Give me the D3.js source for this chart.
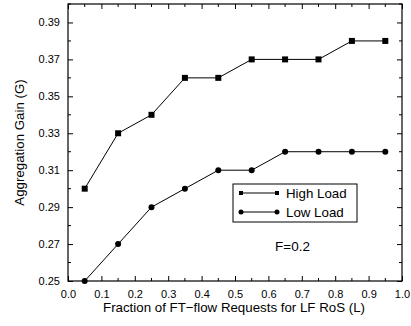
<!DOCTYPE html>
<html>
<head>
<meta charset="utf-8">
<script src="https://cdn.jsdelivr.net/npm/d3@7"></script>
<style>
  html, body { margin: 0; padding: 0; background: #fff; }
  svg { display: block; font-family: "Liberation Sans", Arial, sans-serif; }
</style>
</head>
<body>
<svg id="chart" width="411" height="326"></svg>
<script>
// Fraction of FT-flow requests (L) at which gain was measured
const fractions = [0.05, 0.15, 0.25, 0.35, 0.45, 0.55, 0.65, 0.75, 0.85, 0.95];
// Aggregation gain per load level
const highLoad = [0.30, 0.33, 0.34, 0.36, 0.36, 0.37, 0.37, 0.37, 0.38, 0.38];
const lowLoad  = [0.25, 0.27, 0.29, 0.30, 0.31, 0.31, 0.32, 0.32, 0.32, 0.32];
const seriesNames = ["High Load", "Low Load"];
const xTickLabels = ["0.0","0.1","0.2","0.3","0.4","0.5","0.6","0.7","0.8","0.9","1.0"];
const yTickLabels = ["0.25","0.27","0.29","0.31","0.33","0.35","0.37","0.39"];
const annotation = "F=0.2";

const svg = d3.select("#chart");
const m = { left: 68, right: 402, top: 4, bottom: 281 };

const x = d3.scaleLinear().domain([0, 1]).range([m.left, m.right]);
const y = d3.scaleLinear().domain([0.25, 0.40]).range([m.bottom, m.top]);

const majorX = xTickLabels.map(Number);
const minorX = d3.range(0.05, 1, 0.1);
const majorY = yTickLabels.map(Number);
const minorY = d3.range(0.26, 0.40, 0.02);

// Bottom axis (ticks pointing inward)
const axBottom = svg.append("g").attr("transform", `translate(0,${m.bottom})`)
  .call(d3.axisBottom(x).tickValues(majorX).tickSize(-5).tickSizeOuter(0)
        .tickFormat((d, i) => xTickLabels[i]).tickPadding(9));
axBottom.append("g").selectAll("line").data(minorX).join("line")
  .attr("x1", d => x(d)).attr("x2", d => x(d)).attr("y1", 0).attr("y2", -3)
  .attr("stroke", "#000");

// Top axis, ticks only
const axTop = svg.append("g").attr("transform", `translate(0,${m.top})`)
  .call(d3.axisTop(x).tickValues(majorX).tickSize(-5).tickSizeOuter(0).tickFormat(""));
axTop.append("g").selectAll("line").data(minorX).join("line")
  .attr("x1", d => x(d)).attr("x2", d => x(d)).attr("y1", 0).attr("y2", 3)
  .attr("stroke", "#000");

// Left axis
const axLeft = svg.append("g").attr("transform", `translate(${m.left},0)`)
  .call(d3.axisLeft(y).tickValues(majorY).tickSize(-5).tickSizeOuter(0)
        .tickFormat((d, i) => yTickLabels[i]).tickPadding(8));
axLeft.append("g").selectAll("line").data(minorY).join("line")
  .attr("y1", d => y(d)).attr("y2", d => y(d)).attr("x1", 0).attr("x2", 3)
  .attr("stroke", "#000");

// Right axis, ticks only
const axRight = svg.append("g").attr("transform", `translate(${m.right},0)`)
  .call(d3.axisRight(y).tickValues(majorY).tickSize(-5).tickSizeOuter(0).tickFormat(""));
axRight.append("g").selectAll("line").data(minorY).join("line")
  .attr("y1", d => y(d)).attr("y2", d => y(d)).attr("x1", 0).attr("x2", -3)
  .attr("stroke", "#000");

svg.selectAll(".tick text").attr("font-size", 11).attr("fill", "#000")
  .attr("font-family", "'Liberation Sans', Arial, sans-serif");
svg.selectAll(".domain").remove();

// Frame
svg.append("rect")
  .attr("x", m.left).attr("y", m.top)
  .attr("width", m.right - m.left).attr("height", m.bottom - m.top)
  .attr("fill", "none").attr("stroke", "#000").attr("stroke-width", 1.2);

// Axis titles
svg.append("text")
  .attr("x", 234).attr("y", 312)
  .attr("text-anchor", "middle").attr("font-size", 13.3)
  .text("Fraction of FT\u2212flow Requests for LF RoS (L)");
svg.append("text")
  .attr("transform", `translate(24,${(m.top + m.bottom) / 2}) rotate(-90)`)
  .attr("text-anchor", "middle").attr("font-size", 13.3)
  .text("Aggregation Gain (G)");

// Series
const line = d3.line().x(d => x(d[0])).y(d => y(d[1]));
const series = [
  { name: seriesNames[0], values: highLoad, shape: "square" },
  { name: seriesNames[1], values: lowLoad, shape: "circle" }
];

function drawMarker(g, shape, cx, cy) {
  if (shape === "square") {
    g.append("rect").attr("x", cx - 3).attr("y", cy - 3)
      .attr("width", 6).attr("height", 6).attr("fill", "#000");
  } else {
    g.append("circle").attr("cx", cx).attr("cy", cy).attr("r", 3).attr("fill", "#000");
  }
}

series.forEach(s => {
  const pts = fractions.map((f, i) => [f, s.values[i]]);
  svg.append("path").datum(pts).attr("d", line)
    .attr("fill", "none").attr("stroke", "#000").attr("stroke-width", 1);
  const g = svg.append("g");
  pts.forEach(p => drawMarker(g, s.shape, x(p[0]), y(p[1])));
});

// Legend
const lg = svg.append("g");
lg.append("rect").attr("x", 233).attr("y", 184).attr("width", 124).attr("height", 38)
  .attr("fill", "#fff").attr("stroke", "#000").attr("stroke-width", 1);
series.forEach((s, i) => {
  const ly = 193 + i * 19;
  lg.append("line").attr("x1", 241).attr("x2", 277).attr("y1", ly).attr("y2", ly)
    .attr("stroke", "#000");
  const mg = lg.append("g");
  if (s.shape === "square") {
    mg.append("rect").attr("x", 239).attr("y", ly - 2).attr("width", 4).attr("height", 4);
    mg.append("rect").attr("x", 275).attr("y", ly - 2).attr("width", 4).attr("height", 4);
  } else {
    mg.append("circle").attr("cx", 241).attr("cy", ly).attr("r", 2.5);
    mg.append("circle").attr("cx", 277).attr("cy", ly).attr("r", 2.5);
  }
  lg.append("text").attr("x", 286).attr("y", ly + 5).attr("font-size", 13.3).text(s.name);
});

svg.append("text").attr("x", 275).attr("y", 251).attr("font-size", 13.5).text(annotation);
</script>
</body>
</html>
